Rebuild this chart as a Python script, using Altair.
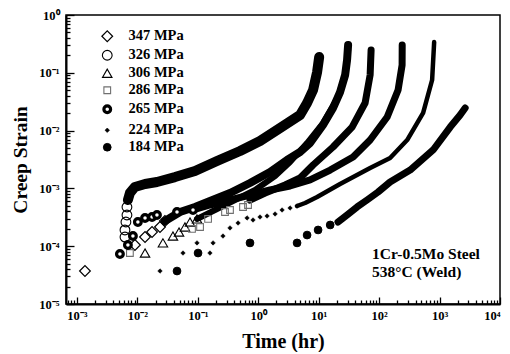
import altair as alt
import pandas as pd

series_names = ["347 MPa", "326 MPa", "306 MPa", "286 MPa", "265 MPa", "224 MPa", "184 MPa"]

# ---- sparse marker readings (time hr, creep strain) ----
m347_t = [0.00136, 0.00912, 0.0134, 0.0175, 0.0237, 0.0286]
m347_e = [3.72e-5, 1.05e-4, 1.44e-4, 1.76e-4, 2.15e-4, 2.73e-4]
m326_t = [0.00624, 0.00624, 0.00647, 0.00673, 0.00673]
m326_e = [1.44e-4, 1.91e-4, 2.62e-4, 3.47e-4, 4.77e-4]
m306_t = [0.0134, 0.0265, 0.0388, 0.0489, 0.0614, 0.0743, 0.0970]
m306_e = [7.62e-5, 1.14e-4, 1.50e-4, 1.76e-4, 2.15e-4, 2.62e-4, 2.96e-4]
m286_t = [0.00753, 0.0802, 0.109, 0.148, 0.282, 0.341, 0.560, 0.678]
m286_e = [7.62e-5, 1.99e-4, 2.15e-4, 2.96e-4, 3.91e-4, 4.23e-4, 4.77e-4, 5.16e-4]
m265_t = [0.00515, 0.00698, 0.00845, 0.0102, 0.0134, 0.0175, 0.0211, 0.0453, 0.0834]
m265_e = [7.33e-5, 1.05e-4, 1.50e-4, 2.62e-4, 3.08e-4, 3.20e-4, 3.47e-4, 3.91e-4, 4.23e-4]
m224_t = [0.0237, 0.0569, 0.0970, 0.159, 0.179, 0.261, 0.341, 0.464, 0.653, 0.820, 1.07, 1.40, 1.90, 2.48, 3.36, 4.39]
m224_e = [3.72e-5, 7.62e-5, 1.14e-4, 7.62e-5, 1.14e-4, 1.50e-4, 2.07e-4, 2.52e-4, 3.08e-4, 2.84e-4, 3.20e-4, 3.33e-4, 3.61e-4, 4.23e-4, 4.58e-4, 4.96e-4]
m184_t = [0.0453, 0.101, 0.731, 4.39, 6.43, 9.78, 15.5]
m184_e = [3.72e-5, 7.62e-5, 1.14e-4, 1.14e-4, 1.56e-4, 1.91e-4, 2.33e-4]

# ---- dense (overlapping-marker) parts of the curves ----
c347_t = [0.0286, 0.0507, 0.0899, 0.159, 0.341, 0.731, 1.57, 3.00, 4.92, 7.21, 11.8, 17.3, 22.6, 27.4, 29.5, 30.7]
c347_e = [2.73e-4, 3.91e-4, 4.77e-4, 6.05e-4, 8.32e-4, 1.24e-3, 1.92e-3, 3.10e-3, 4.26e-3, 6.10e-3, 0.0125, 0.0246, 0.0465, 0.0916, 0.166, 0.303]
c326_t = [0.00698, 0.00753, 0.00912, 0.0134, 0.0211, 0.0420, 0.0899, 0.208, 0.500, 1.07, 2.30, 4.92, 6.43, 8.08, 9.42, 10.2]
c326_e = [6.30e-4, 8.32e-4, 1.06e-3, 1.19e-3, 1.29e-3, 1.57e-3, 2.00e-3, 2.98e-3, 4.44e-3, 6.61e-3, 0.0111, 0.0186, 0.0300, 0.0504, 0.103, 0.188]
c306_t = [0.0970, 0.193, 0.413, 0.885, 1.90, 3.36, 6.43, 11.8, 20.9, 27.4, 30.7]
c306_e = [2.96e-4, 4.23e-4, 6.30e-4, 9.38e-4, 1.64e-3, 2.86e-3, 6.10e-3, 0.0135, 0.0381, 0.0916, 0.248]
c286_t = [0.731, 1.30, 2.78, 4.92, 8.08, 17.3, 35.7, 58.6, 71.0, 73.7]
c286_e = [6.30e-4, 8.32e-4, 1.15e-3, 1.51e-3, 2.54e-3, 5.20e-3, 0.0115, 0.0300, 0.0916, 0.248]
c265_t = [0.0834, 0.159, 0.341, 0.731, 1.57, 3.36, 7.21, 15.5, 37.1, 71.0, 136, 206, 240, 241]
c265_e = [4.23e-4, 5.16e-4, 6.30e-4, 7.69e-4, 9.38e-4, 1.10e-3, 1.40e-3, 2.08e-3, 3.49e-3, 6.87e-3, 0.0172, 0.0504, 0.136, 0.303]
c224_t = [4.39, 5.96, 9.42, 22.6, 71.0, 152, 291, 535, 753, 814]
c224_e = [4.96e-4, 5.59e-4, 7.10e-4, 1.19e-3, 2.25e-3, 3.36e-3, 6.87e-3, 0.0202, 0.0750, 0.341]
c184_t = [20.9, 29.5, 43.3, 63.2, 96.2, 152, 326, 783, 1500, 2190, 2650]
c184_e = [2.62e-4, 3.47e-4, 4.77e-4, 6.30e-4, 8.67e-4, 1.29e-3, 2.08e-3, 4.62e-3, 0.0115, 0.0186, 0.0246]

# ---- axis ticks / labels ----
x_major = [1e-3, 1e-2, 1e-1, 1, 10, 100, 1000, 1e4]
x_labels = ["10⁻³", "10⁻²", "10⁻¹", "10⁰", "10¹", "10²", "10³", "10⁴"]
y_major = [1e-5, 1e-4, 1e-3, 1e-2, 1e-1, 1]
y_labels = ["10⁻⁵", "10⁻⁴", "10⁻³", "10⁻²", "10⁻¹", "10⁰"]
x_dom = [6.6e-4, 1e4]
y_dom = [1e-5, 1]
x_minor = [m * 10.0 ** k for k in range(-4, 4) for m in range(2, 10) if x_dom[0] <= m * 10.0 ** k <= x_dom[1]]
y_minor = [m * 10.0 ** k for k in range(-5, 0) for m in range(2, 10)]

shapes = ["diamond", "circle", "triangle-up", "square", "circle", "diamond", "circle"]
fills = ["transparent", "transparent", "transparent", "transparent", "white", "black", "black"]
strokes = ["black", "black", "black", "#707070", "black", "black", "black"]
swidths = [1.2, 1.1, 1.1, 1.1, 3.2, 0.6, 1]
sizes = [115, 95, 90, 45, 45, 20, 60]

line_w = {"347 MPa": 8, "326 MPa": 10, "306 MPa": 6, "286 MPa": 7, "265 MPa": 7, "224 MPa": 4.5, "184 MPa": 7}

marker_sets = [(m347_t, m347_e), (m326_t, m326_e), (m306_t, m306_e), (m286_t, m286_e),
               (m265_t, m265_e), (m224_t, m224_e), (m184_t, m184_e)]
rows = []
for name, (ts, es) in zip(series_names, marker_sets):
    for t, e in zip(ts, es):
        rows.append({"series": name, "t": t, "e": e})
markers = pd.DataFrame(rows)

curves = {"347 MPa": (c347_t, c347_e), "326 MPa": (c326_t, c326_e), "306 MPa": (c306_t, c306_e),
          "286 MPa": (c286_t, c286_e), "265 MPa": (c265_t, c265_e), "224 MPa": (c224_t, c224_e),
          "184 MPa": (c184_t, c184_e)}

FONT = "Liberation Serif"


def label_expr(labels, first_exp):
    arr = "[" + ",".join("'" + s + "'" for s in labels) + "]"
    return arr + "[round(log(datum.value)/LN10) - (" + str(first_exp) + ")]"


xs = alt.Scale(type="log", domain=x_dom, nice=False)
ys = alt.Scale(type="log", domain=y_dom, nice=False)

main_x = alt.Axis(orient="bottom", values=x_major, labelExpr=label_expr(x_labels, -3), ticks=False, tickSize=0,
                  grid=False, domainColor="black", domainWidth=2, labelFont=FONT, labelFontWeight="bold",
                  labelFontSize=12.5, labelColor="black", labelPadding=5, labelBaseline="top",
                  title="Time (hr)", titleFont=FONT, titleFontWeight="bold", titleFontSize=20,
                  titleColor="black", titleX=217, titleY=43, titleBaseline="alphabetic")
main_y = alt.Axis(orient="left", values=y_major, labelExpr=label_expr(y_labels, -5), ticks=False, tickSize=0,
                  grid=False, domainColor="black", domainWidth=2, labelFont=FONT, labelFontWeight="bold",
                  labelFontSize=12.5, labelColor="black", labelPadding=7,
                  title="Creep Strain", titleFont=FONT, titleFontWeight="bold", titleFontSize=19.5,
                  titleColor="black", titleX=-40, titleY=144.5, titleBaseline="alphabetic", titleAngle=270)

points = alt.Chart(markers).mark_point(filled=True, opacity=1).encode(
    x=alt.X("t:Q", scale=xs, axis=main_x),
    y=alt.Y("e:Q", scale=ys, axis=main_y),
    shape=alt.Shape("series:O", scale=alt.Scale(domain=series_names, range=shapes), title=None),
    fill=alt.Fill("series:O", scale=alt.Scale(domain=series_names, range=fills), title=None),
    stroke=alt.Stroke("series:O", scale=alt.Scale(domain=series_names, range=strokes), title=None),
    strokeWidth=alt.StrokeWidth("series:O", scale=alt.Scale(type="ordinal", domain=series_names, range=swidths), title=None),
    size=alt.Size("series:O", scale=alt.Scale(type="ordinal", domain=series_names, range=sizes), title=None),
)

line_layers = []
for name, (ts, es) in curves.items():
    df = pd.DataFrame({"t": ts, "e": es})
    line_layers.append(
        alt.Chart(df).mark_line(color="black", strokeWidth=line_w[name], strokeCap="round", strokeJoin="round").encode(
            x=alt.X("t:Q", scale=xs, axis=None),
            y=alt.Y("e:Q", scale=ys, axis=None),
            order="t:Q",
        )
    )


def tick_layer(xv, yv, xlen, ylen):
    return alt.Chart(markers).mark_point(opacity=0).encode(
        x=alt.X("t:Q", scale=xs, axis=alt.Axis(orient="bottom", values=xv, labels=False, domain=False, grid=False,
                                               tickSize=xlen, tickWidth=1.3, tickColor="black", offset=-xlen,
                                               title=None)),
        y=alt.Y("e:Q", scale=ys, axis=alt.Axis(orient="left", values=yv, labels=False, domain=False, grid=False,
                                               tickSize=ylen, tickWidth=1.3, tickColor="black", offset=-ylen,
                                               title=None)),
    )


note = alt.Chart(pd.DataFrame({"txt": ["1Cr-0.5Mo Steel", "538°C (Weld)"], "py": [244, 262]})).mark_text(
    align="left", baseline="alphabetic", font=FONT, fontWeight="bold", fontSize=15.5, color="black"
).encode(x=alt.value(306), y=alt.Y("py:Q", scale=None), text="txt:N")

chart = alt.layer(
    tick_layer(x_major, y_major, 7, 8),
    tick_layer(x_minor, y_minor, 4, 4),
    *line_layers,
    points,
    note,
).resolve_axis(x="independent", y="independent").properties(
    width=434, height=289,
    padding={"left": 58, "top": 7, "right": 2, "bottom": 48},
    autosize=alt.AutoSizeParams(type="none"),
).configure_view(stroke="black", strokeWidth=1.5).configure_legend(
    orient="none", legendX=34, legendY=14, labelFont=FONT, labelFontWeight="bold", labelFontSize=14.5,
    labelColor="black", labelOffset=14, rowPadding=2, symbolType="circle"
).configure_axis(grid=False)

chart.save("out.html", embed_options={"renderer": "svg", "actions": False})
